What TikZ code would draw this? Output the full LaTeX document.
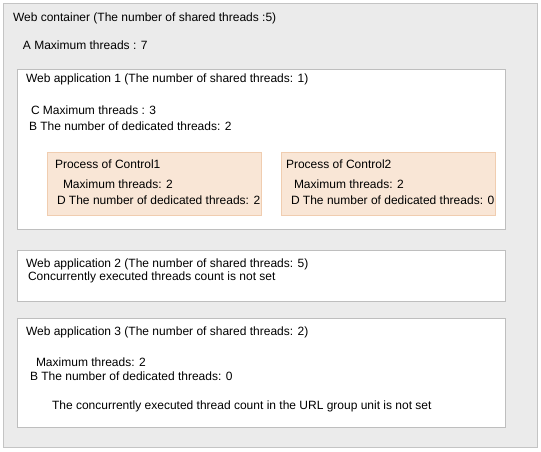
\documentclass[tikz,border=0pt]{standalone}
\usepackage{fontspec}
\setmainfont{Liberation Sans}
\definecolor{outerfill}{HTML}{EBEBEB}
\definecolor{outerline}{HTML}{C4C4C4}
\definecolor{appline}{HTML}{BEBEBE}
\definecolor{ctlfill}{HTML}{F9E6D6}
\definecolor{ctlline}{HTML}{F0CDB0}
\begin{document}
\begin{tikzpicture}[x=1pt,y=-1pt,
  every node/.style={inner sep=0pt,outer sep=0pt},
  lbl/.style={anchor=west,font=\fontsize{12}{14}\selectfont,text=black},
  outerbox/.style={draw=outerline,fill=outerfill,line width=0.8pt},
  appbox/.style={draw=appline,fill=white,line width=0.8pt},
  ctlbox/.style={draw=ctlline,fill=ctlfill,line width=0.8pt}]
\useasboundingbox (0,0) rectangle (541,451);
% outer container
\path[outerbox] (3,3) rectangle (537,447);
\node[lbl] (t0) at (13,18) {Web container (The number of shared threads :5)};
\node[lbl] (a0) at (23,45) {A Maximum threads : 7};
% web application 1
\path[appbox] (17,69) rectangle (505,229);
\node[lbl] (t1) at (26,79) {Web application 1 (The number of shared threads: 1)};
\node[lbl] (c1) at (31,110) {C Maximum threads : 3};
\node[lbl] (b1) at (29,126) {B The number of dedicated threads: 2};
% control boxes
\path[ctlbox] (47,152) rectangle (261,215);
\node[lbl] (p1) at (55,164) {Process of Control1};
\node[lbl] (m1) at (63,184) {Maximum threads: 2};
\node[lbl] (d1) at (57,200) {D The number of dedicated threads: 2};
\path[ctlbox] (281,152) rectangle (495,215);
\node[lbl] (p2) at (286,164) {Process of Control2};
\node[lbl] (m2) at (294,184) {Maximum threads: 2};
\node[lbl] (d2) at (291,200) {D The number of dedicated threads: 0};
% web application 2
\path[appbox] (17,250) rectangle (505,301);
\node[lbl] (t2) at (26,264) {Web application 2 (The number of shared threads: 5)};
\node[lbl] (n2) at (28,277) {Concurrently executed threads count is not set};
% web application 3
\path[appbox] (17,318) rectangle (505,427);
\node[lbl] (t3) at (26,332) {Web application 3 (The number of shared threads: 2)};
\node[lbl] (m3) at (36,362) {Maximum threads: 2};
\node[lbl] (b3) at (30,376) {B The number of dedicated threads: 0};
\node[lbl] (u3) at (52,406) {The concurrently executed thread count in the URL group unit is not set};
\end{tikzpicture}
\end{document}
